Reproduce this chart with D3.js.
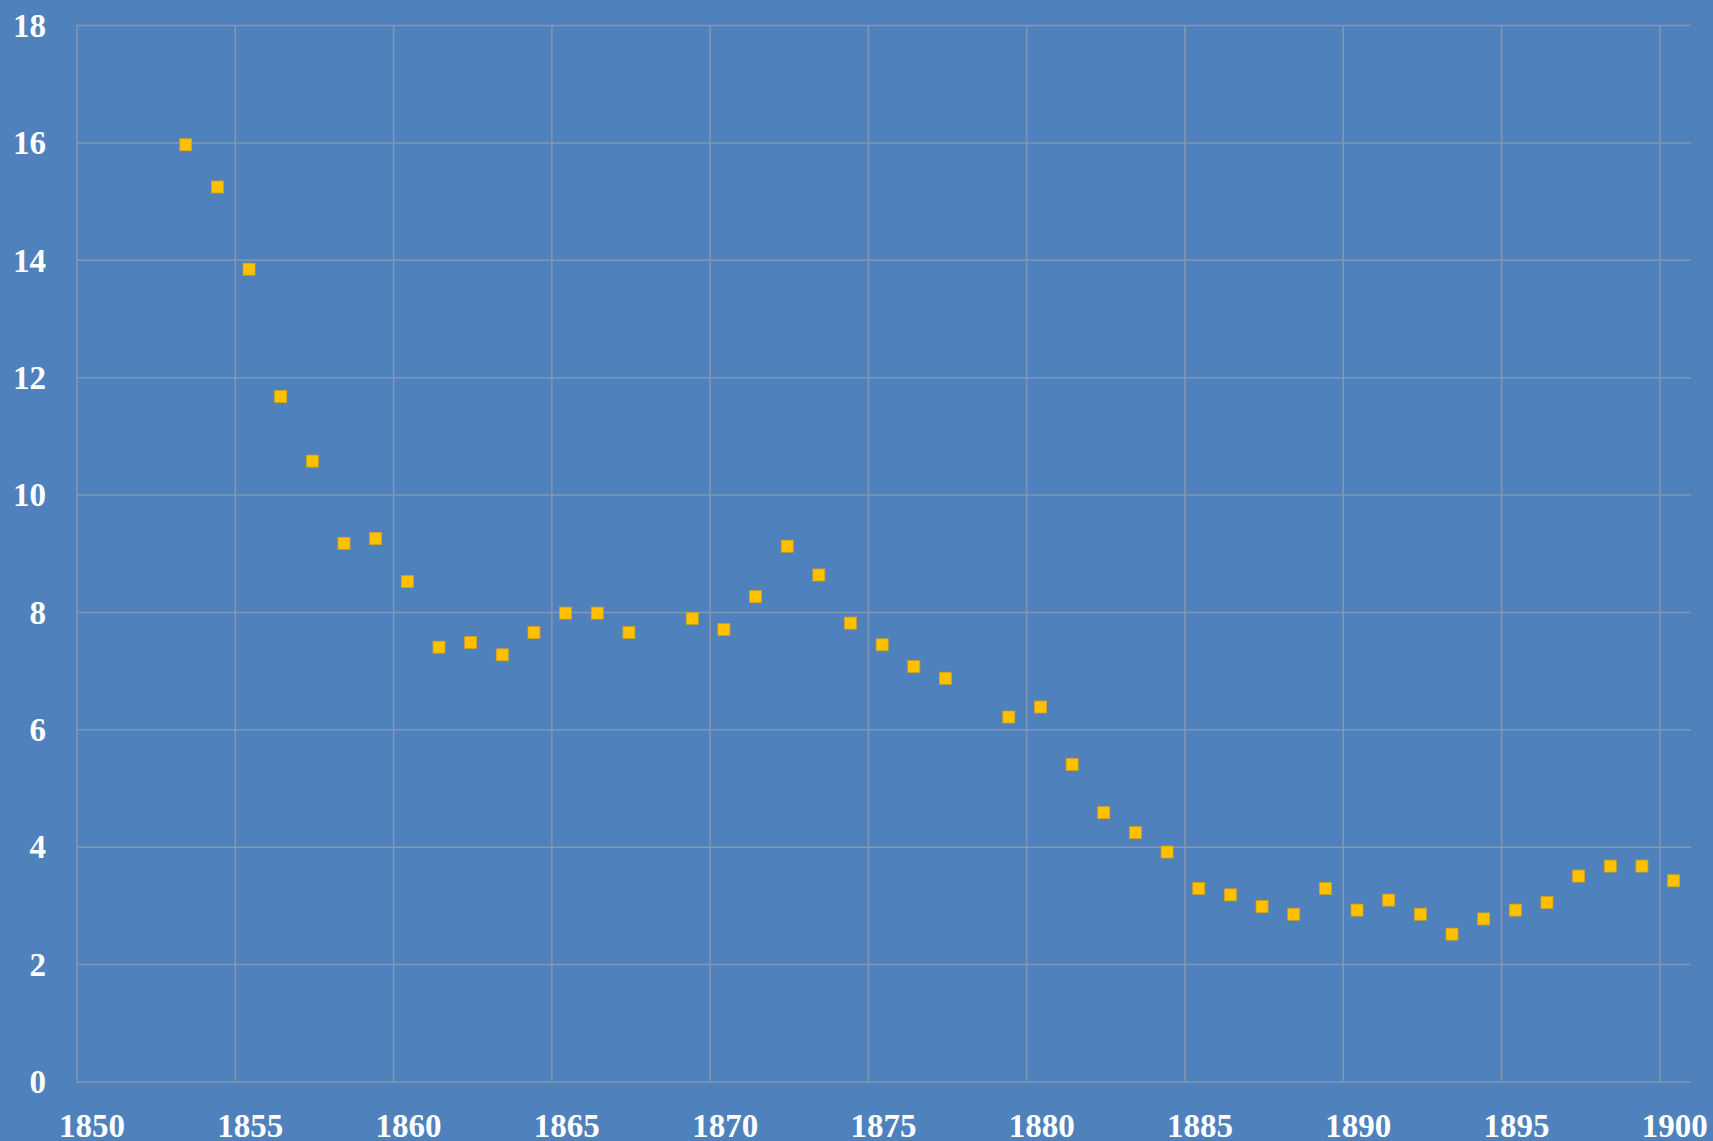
<!DOCTYPE html>
<meta charset="utf-8">
<style>
    body { margin: 0; background: #4f81bd; }
    .grid line { stroke: #8497b0; stroke-width: 1.5; }
    .grid path { display: none; }
    .labels path, .labels line { display: none; }
    .labels text {
        fill: #ffffff;
        font: bold 33px "Liberation Serif", "DejaVu Serif", serif;
    }
    .dot { fill: #ffc000; stroke: #d4a017; stroke-width: 0.8; }
</style>
<svg class="chart"></svg>
<script src="https://cdn.jsdelivr.net/npm/d3@7/dist/d3.min.js"></script>
<script>
    // data
    var years = [1853.45, 1854.45, 1855.45, 1856.45, 1857.45, 1858.45, 1859.45, 1860.45,
        1861.45, 1862.45, 1863.45, 1864.45, 1865.45, 1866.45, 1867.45, 1869.45, 1870.45,
        1871.45, 1872.45, 1873.45, 1874.45, 1875.45, 1876.45, 1877.45, 1879.45, 1880.45,
        1881.45, 1882.45, 1883.45, 1884.45, 1885.45, 1886.45, 1887.45, 1888.45, 1889.45,
        1890.45, 1891.45, 1892.45, 1893.45, 1894.45, 1895.45, 1896.45, 1897.45, 1898.45,
        1899.45, 1900.45];
    var values = [15.96, 15.24, 13.84, 11.67, 10.57, 9.17, 9.25, 8.52,
        7.40, 7.48, 7.27, 7.65, 7.98, 7.98, 7.65, 7.89, 7.70,
        8.26, 9.12, 8.63, 7.81, 7.44, 7.07, 6.87, 6.21, 6.38,
        5.40, 4.58, 4.24, 3.91, 3.29, 3.18, 2.98, 2.85, 3.29,
        2.92, 3.09, 2.85, 2.51, 2.77, 2.92, 3.05, 3.50, 3.67,
        3.67, 3.42];
    var xTicks = [1850, 1855, 1860, 1865, 1870, 1875, 1880, 1885, 1890, 1895, 1900];
    var yTicks = [0, 2, 4, 6, 8, 10, 12, 14, 16, 18];

    function drawChart() {
        var width = 1713,
            height = 1141,
            left = 76.5,
            right = 1691,
            top = 25,
            bottom = 1081.5,
            size = 12;

        var x = d3.scaleLinear()
            .domain([1850, 1901])
            .range([left, right]);

        var y = d3.scaleLinear()
            .domain([0, 18])
            .range([bottom, top]);

        var chart = d3.select(".chart")
            .attr("width", width)
            .attr("height", height);

        chart.append("rect")
            .attr("width", width)
            .attr("height", height)
            .attr("fill", "#4f81bd");

        // horizontal grid lines
        chart.append("g")
            .attr("class", "grid")
            .attr("transform", "translate(" + left + ",0)")
            .call(d3.axisLeft(y).tickValues(yTicks).tickSize(-(right - left)).tickFormat(""));

        // vertical grid lines
        chart.append("g")
            .attr("class", "grid")
            .attr("transform", "translate(0," + bottom + ")")
            .call(d3.axisBottom(x).tickValues(xTicks).tickSize(-(bottom - top)).tickFormat(""));

        var yLabels = chart.append("g")
            .attr("class", "labels")
            .attr("transform", "translate(46,0)")
            .call(d3.axisLeft(y).tickValues(yTicks).tickSize(0).tickPadding(0));
        yLabels.selectAll("text").attr("dy", "0.34em");

        var xLabels = chart.append("g")
            .attr("class", "labels")
            .attr("transform", "translate(15," + bottom + ")")
            .call(d3.axisBottom(x).tickValues(xTicks).tickSize(0).tickFormat(d3.format("d")));
        xLabels.selectAll("text").attr("y", 55).attr("dy", 0);

        var points = years.map(function (d, i) { return { year: d, value: values[i] }; });

        chart.selectAll(".dot")
            .data(points)
            .enter().append("rect")
            .attr("class", "dot")
            .attr("x", function (d) { return x(d.year) - size / 2; })
            .attr("y", function (d) { return y(d.value) - size / 2; })
            .attr("width", size)
            .attr("height", size);
    }
    drawChart();
</script>
